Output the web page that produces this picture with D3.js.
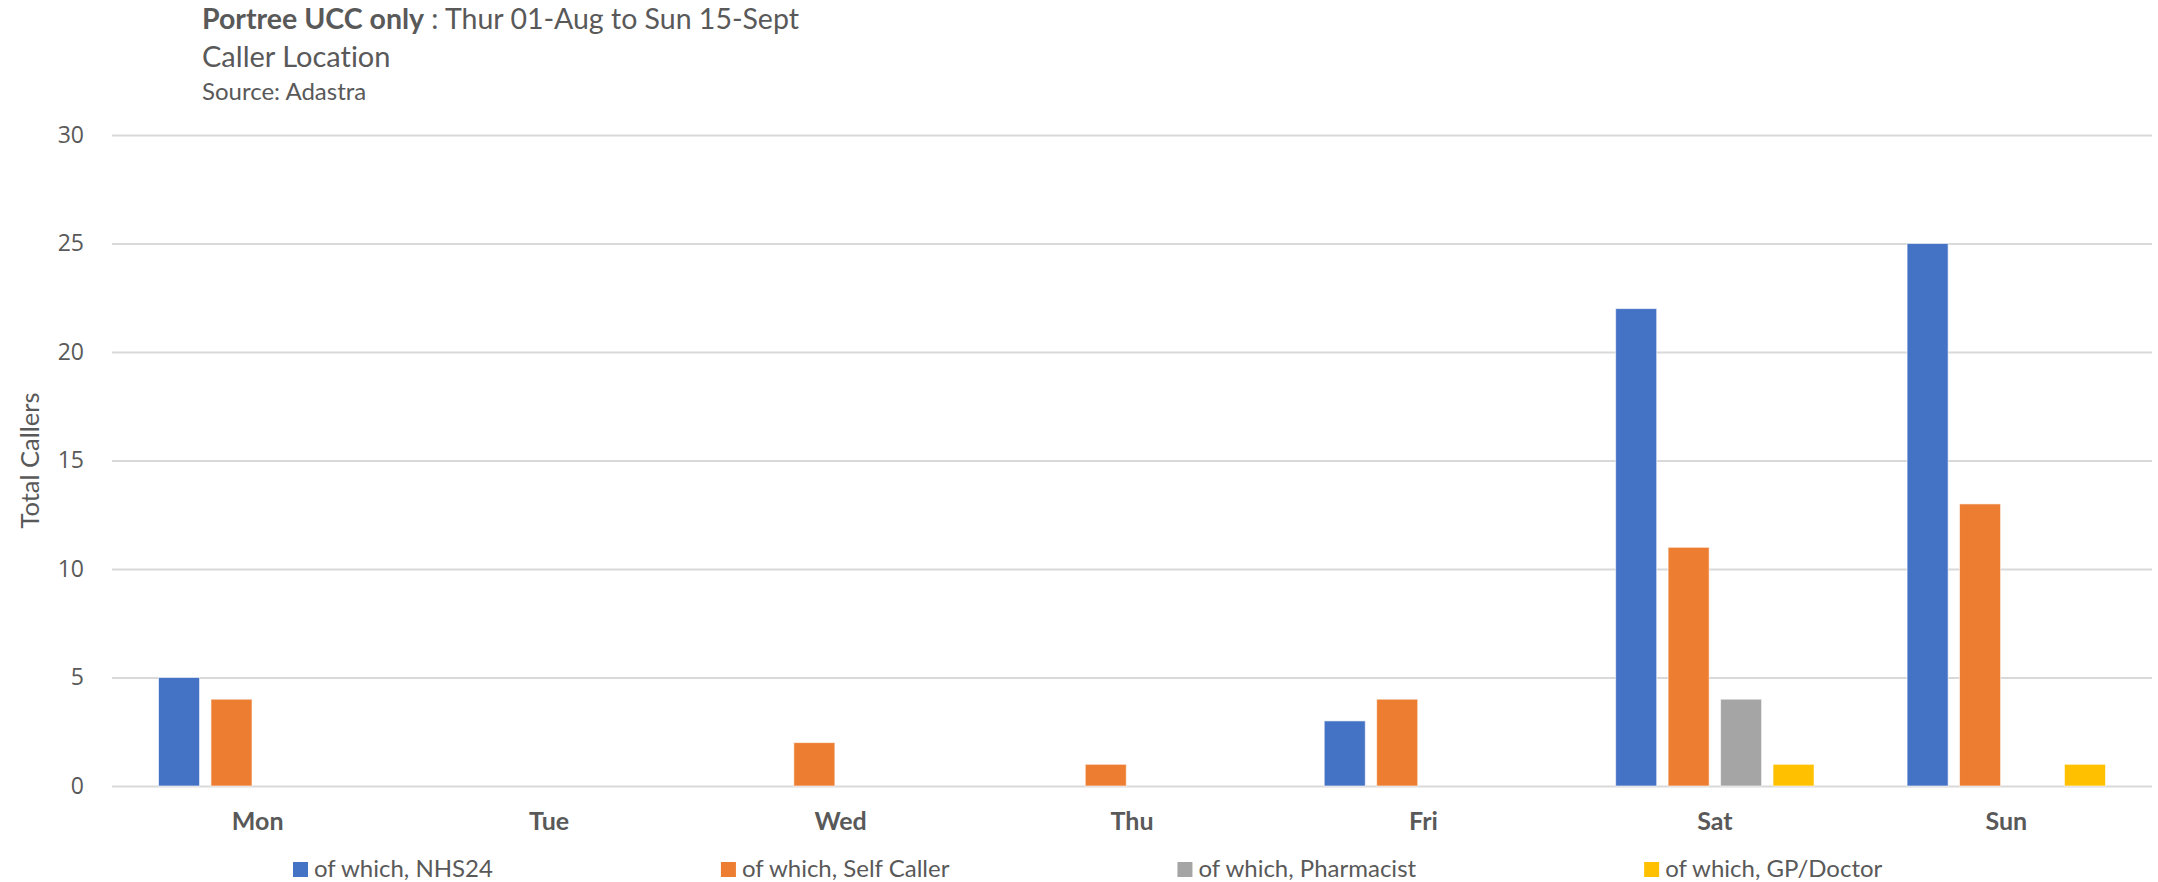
<!DOCTYPE html>
<html>
<head>
<meta charset="utf-8">
<script src="https://cdnjs.cloudflare.com/ajax/libs/d3/7.8.5/d3.min.js"></script>
<style>
  html, body { margin: 0; padding: 0; background: #fff; }
  svg { display: block; }
  text { font-variant-ligatures: none; font-feature-settings: "liga" 0; }
</style>
</head>
<body>
<div id="chart"></div>
<script>
// Data
const days = ["Mon", "Tue", "Wed", "Thu", "Fri", "Sat", "Sun"];
const seriesNames = ["of which, NHS24", "of which, Self Caller", "of which, Pharmacist", "of which, GP/Doctor"];
const nhs24 = [5, 0, 0, 0, 3, 22, 25];
const selfCaller = [4, 0, 2, 1, 4, 11, 13];
const pharmacist = [0, 0, 0, 0, 0, 4, 0];
const gpDoctor = [0, 0, 0, 0, 0, 1, 1];
const yTicks = [0, 5, 10, 15, 20, 25, 30];
const colors = ["#4472C4", "#ED7D31", "#A5A5A5", "#FFC000"];

const seriesValues = [nhs24, selfCaller, pharmacist, gpDoctor];

const width = 2158;
const height = 882;
const plot = { left: 112, right: 2152, top: 135, bottom: 786 };
const textColor = "#595959";
const calibri = "Lato, 'Open Sans', sans-serif";

const svg = d3.select("#chart")
  .append("svg")
  .attr("width", width)
  .attr("height", height)
  .attr("viewBox", `0 0 ${width} ${height}`);

// Scales
const x0 = d3.scaleBand()
  .domain(days)
  .range([plot.left, plot.right])
  .paddingInner(0.28)
  .paddingOuter(0.14);

const x1 = d3.scaleBand()
  .domain(seriesNames)
  .range([0, x0.bandwidth()])
  .paddingInner(0.2176)
  .paddingOuter(0.1088);

const y = d3.scaleLinear()
  .domain([0, 30])
  .range([plot.bottom, plot.top]);

// Gridlines + y tick labels
const yAxis = svg.append("g")
  .attr("transform", `translate(${plot.left},0)`)
  .call(d3.axisLeft(y)
    .tickValues(yTicks)
    .tickSizeInner(-(plot.right - plot.left))
    .tickSizeOuter(0)
    .tickPadding(28));
yAxis.select(".domain").remove();
yAxis.selectAll(".tick line")
  .attr("stroke", "#D9D9D9")
  .attr("stroke-width", 2);
yAxis.selectAll(".tick text")
  .attr("fill", textColor)
  .style("font-family", "'Open Sans', sans-serif")
  .style("font-size", "23px");

// Bars
const rows = days.map((d, i) => ({ day: d, values: seriesNames.map((s, j) => ({ series: s, j, value: seriesValues[j][i] })) }));

const groups = svg.append("g")
  .selectAll("g")
  .data(rows)
  .enter()
  .append("g")
  .attr("transform", d => `translate(${x0(d.day)},0)`);

groups.selectAll("rect")
  .data(d => d.values.filter(v => v.value > 0))
  .enter()
  .append("rect")
  .attr("x", d => x1(d.series))
  .attr("width", x1.bandwidth())
  .attr("y", d => y(d.value))
  .attr("height", d => y(0) - y(d.value))
  .attr("fill", d => colors[d.j])
  .attr("stroke", "#ffffff")
  .attr("stroke-opacity", 0.6)
  .attr("stroke-width", 1);

// X axis labels
const xAxis = svg.append("g")
  .attr("transform", `translate(0,${plot.bottom})`)
  .call(d3.axisBottom(x0).tickSize(0).tickPadding(26));
xAxis.select(".domain").remove();
xAxis.selectAll(".tick text")
  .attr("fill", textColor)
  .style("font-family", calibri)
  .style("font-weight", "bold")
  .style("font-size", "25px");

// Y axis title
svg.append("text")
  .attr("transform", `translate(39,${(plot.top + plot.bottom) / 2}) rotate(-90)`)
  .attr("text-anchor", "middle")
  .attr("fill", textColor)
  .style("font-family", calibri)
  .style("font-size", "25.5px")
  .text("Total Callers");

// Titles
const title = svg.append("text")
  .attr("x", 202)
  .attr("y", 29)
  .attr("fill", textColor)
  .style("font-family", calibri)
  .style("font-size", "28.5px");
title.append("tspan").style("font-weight", "bold").text("Portree UCC only");
title.append("tspan").text(" : Thur 01-Aug to Sun 15-Sept");

svg.append("text")
  .attr("x", 202)
  .attr("y", 67)
  .attr("fill", textColor)
  .style("font-family", calibri)
  .style("font-size", "29px")
  .text("Caller Location");

svg.append("text")
  .attr("x", 202)
  .attr("y", 100)
  .attr("fill", textColor)
  .style("font-family", calibri)
  .style("font-size", "24px")
  .text("Source: Adastra");

// Legend
const legend = svg.append("g").attr("transform", "translate(293,0)");
let lx = 0;
seriesNames.forEach((name, j) => {
  const item = legend.append("g").attr("transform", `translate(${lx},0)`);
  item.append("rect")
    .attr("x", 0)
    .attr("y", 862)
    .attr("width", 15)
    .attr("height", 15)
    .attr("fill", colors[j]);
  const t = item.append("text")
    .attr("x", 21)
    .attr("y", 877)
    .attr("fill", textColor)
    .style("font-family", calibri)
    .style("font-size", "24px")
    .text(name);
  lx += 21 + t.node().getComputedTextLength() + 228;
});
</script>
</body>
</html>
